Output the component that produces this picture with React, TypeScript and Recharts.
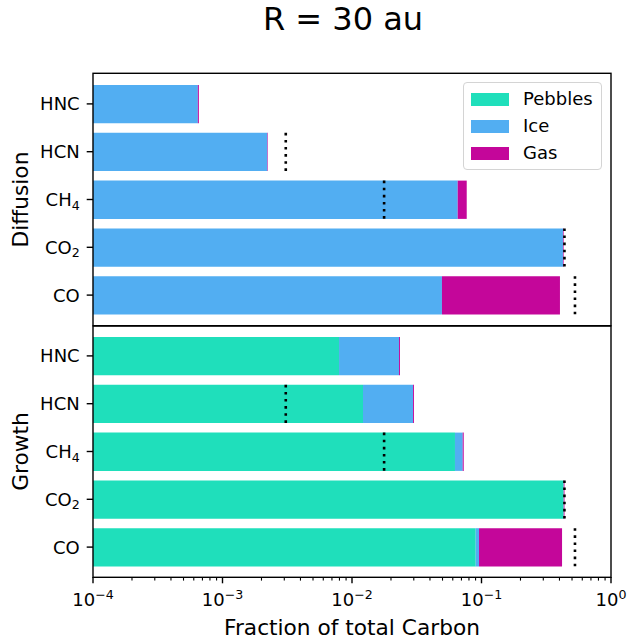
import React from 'react';
import { BarChart, Bar, XAxis, YAxis, Legend } from 'recharts';

// ---------- data ----------
const molecules = ['HNC', 'HCN', 'CH4', 'CO2', 'CO'];
const moleculeLabels: Record<string, [string, string]> = {
  HNC: ['HNC', ''],
  HCN: ['HCN', ''],
  CH4: ['CH', '4'],
  CO2: ['CO', '2'],
  CO: ['CO', ''],
};

const diffusionPebbles = [0, 0, 0, 0, 0];
const diffusionIce = [6.45e-4, 2.22e-3, 0.0655, 0.4256, 0.0495];
const diffusionGas = [1.2e-5, 2e-5, 0.0114, 0.005, 0.354];

const growthPebbles = [0.00794, 0.01216, 0.0624, 0.4305, 0.0902];
const growthIce = [0.01512, 0.01742, 0.0092, 0.001, 0.0055];
const growthGas = [0.0004, 0.0005, 0.0013, 0.006, 0.3231];

const referenceFraction: (number | null)[] = [null, 3.08e-3, 0.0177, 0.437, 0.527];

const majorTicks = [1e-4, 1e-3, 1e-2, 1e-1, 1];
const minorTicks = [
  2e-4, 3e-4, 4e-4, 5e-4, 6e-4, 7e-4, 8e-4, 9e-4,
  2e-3, 3e-3, 4e-3, 5e-3, 6e-3, 7e-3, 8e-3, 9e-3,
  2e-2, 3e-2, 4e-2, 5e-2, 6e-2, 7e-2, 8e-2, 9e-2,
  2e-1, 3e-1, 4e-1, 5e-1, 6e-1, 7e-1, 8e-1, 9e-1,
];
const X_MIN = 1e-4;
const X_MAX = 1;

const legendOrder = ['Pebbles', 'Ice', 'Gas'];
const seriesNames = { pebbles: 'Pebbles', ice: 'Ice', gas: 'Gas' };
const colors = { pebbles: '#1fdfbb', ice: '#52aef2', gas: '#c4069a' };

const FONT = 'DejaVu Sans, sans-serif';

function buildRows(peb: number[], ice: number[], gas: number[]) {
  return molecules.map((m, i) => {
    const p = peb[i];
    const c = ice[i];
    const g = gas[i];
    const r = referenceFraction[i];
    return {
      name: m,
      pebbles: p > 0 ? [X_MIN, p] : null,
      ice: c > 0 ? [Math.max(p, X_MIN), p + c] : null,
      gas: g > 0 ? [Math.max(p + c, X_MIN), p + c + g] : null,
      reference: r != null ? [X_MIN, r] : null,
    };
  });
}

const diffusionRows = buildRows(diffusionPebbles, diffusionIce, diffusionGas);
const growthRows = buildRows(growthPebbles, growthIce, growthGas);

// ---------- custom renderers ----------
const MoleculeTick = (props: any) => {
  const { x, y, payload } = props;
  const [base, sub] = moleculeLabels[payload.value] || [payload.value, ''];
  return (
    <text x={x} y={y} dy={6.5} textAnchor="end" fontSize={18} fill="#000" fontFamily={FONT}>
      {base}
      {sub ? (
        <tspan dy={3.5} fontSize={12.6}>
          {sub}
        </tspan>
      ) : null}
    </text>
  );
};

const LogTick = (props: any) => {
  const { x, y, payload } = props;
  const v = payload.value as number;
  const lg = Math.log10(v);
  const exp = Math.round(lg);
  const isMajor = Math.abs(lg - exp) < 1e-6;
  return (
    <g>
      <line
        x1={x}
        x2={x}
        y1={y}
        y2={y + (isMajor ? 6.3 : 3.6)}
        stroke="#000"
        strokeWidth={isMajor ? 1.4 : 1.1}
      />
      {isMajor ? (
        <text x={x} y={y + 28.7} textAnchor="middle" fontSize={18} fill="#000" fontFamily={FONT}>
          10
          <tspan dy={-7} fontSize={12.6}>
            {exp < 0 ? '\u2212' + String(-exp) : String(exp)}
          </tspan>
        </text>
      ) : null}
    </g>
  );
};

const ReferenceMarker = (props: any) => {
  const { x, y, width, height } = props;
  if (x == null || width == null || !isFinite(x) || !isFinite(width)) return null;
  const xe = x + width;
  return (
    <line
      x1={xe}
      x2={xe}
      y1={y}
      y2={y + height}
      stroke="#000"
      strokeWidth={2.6}
      strokeDasharray="2.6 4.5"
    />
  );
};

const LegendBox = (props: any) => {
  const payload = (props.payload || [])
    .filter((p: any) => p.type !== 'none' && legendOrder.indexOf(p.value) >= 0)
    .slice()
    .sort((a: any, b: any) => legendOrder.indexOf(a.value) - legendOrder.indexOf(b.value));
  return (
    <div
      style={{
        position: 'relative',
        width: 137,
        height: 86,
        border: '1px solid #d4d4d4',
        borderRadius: 4,
        background: 'rgba(255,255,255,0.8)',
        fontFamily: FONT,
        fontSize: 18,
        color: '#000',
      }}
    >
      {payload.map((p: any, i: number) => (
        <div key={p.value} style={{ position: 'absolute', left: 0, top: 16 + i * 27 - 13, height: 26, width: 137 }}>
          <div
            style={{
              position: 'absolute',
              left: 7,
              top: 6.5,
              width: 38,
              height: 13,
              background: p.color,
            }}
          />
          <div style={{ position: 'absolute', left: 59, top: 1, lineHeight: '24px', whiteSpace: 'nowrap' }}>
            {p.value}
          </div>
        </div>
      ))}
    </div>
  );
};

// ---------- panel ----------
const CHART_W = 627;
const PLOT_LEFT = 93;
const PLOT_RIGHT = 611;

function Panel(props: { rows: any[]; height: number; showX: boolean; showLegend: boolean; pad: number }) {
  const { rows, height, showX, showLegend, pad } = props;
  const yPad = { top: pad, bottom: pad };
  return (
    <BarChart
      layout="vertical"
      width={CHART_W}
      height={height}
      data={rows}
      margin={{ top: 0, right: CHART_W - PLOT_RIGHT, bottom: 0, left: 0 }}
    >
      <XAxis
        type="number"
        scale="log"
        domain={[X_MIN, X_MAX]}
        allowDataOverflow
        ticks={[...majorTicks, ...minorTicks]}
        interval={0}
        hide={!showX}
        height={showX ? 62 : 0}
        axisLine={false}
        tickLine={false}
        tickSize={0}
        tickMargin={0}
        tick={<LogTick />}
        label={
          showX
            ? {
                value: 'Fraction of total Carbon',
                position: 'insideBottom',
                offset: 4,
                fontSize: 21.7,
                fill: '#000',
                fontFamily: FONT,
              }
            : undefined
        }
      />
      <YAxis
        yAxisId="pebbles"
        type="category"
        dataKey="name"
        width={PLOT_LEFT}
        padding={yPad}
        axisLine={false}
        tickLine={{ stroke: '#000', strokeWidth: 1.4 }}
        tickSize={6.3}
        tickMargin={7}
        tick={<MoleculeTick />}
        interval={0}
      />
      <YAxis yAxisId="ice" type="category" dataKey="name" hide width={0} padding={yPad} />
      <YAxis yAxisId="gas" type="category" dataKey="name" hide width={0} padding={yPad} />
      <YAxis yAxisId="reference" type="category" dataKey="name" hide width={0} padding={yPad} />
      <Bar
        yAxisId="pebbles"
        dataKey="pebbles"
        name={seriesNames.pebbles}
        fill={colors.pebbles}
        barSize={38.3}
        isAnimationActive={false}
      />
      <Bar
        yAxisId="ice"
        dataKey="ice"
        name={seriesNames.ice}
        fill={colors.ice}
        barSize={38.3}
        isAnimationActive={false}
      />
      <Bar
        yAxisId="gas"
        dataKey="gas"
        name={seriesNames.gas}
        fill={colors.gas}
        barSize={38.3}
        isAnimationActive={false}
      />
      <Bar
        yAxisId="reference"
        dataKey="reference"
        legendType="none"
        fill="none"
        barSize={38.3}
        shape={<ReferenceMarker />}
        isAnimationActive={false}
      />
      {showLegend ? (
        <Legend
          layout="horizontal"
          verticalAlign="middle"
          align="center"
          content={<LegendBox />}
          wrapperStyle={{ position: 'absolute', left: 463, top: 9, width: 139, height: 88 }}
        />
      ) : null}
    </BarChart>
  );
}

export default function App() {
  return (
    <div
      style={{
        position: 'absolute',
        left: 0,
        top: 0,
        width: 627,
        height: 639,
        background: '#fff',
        fontFamily: FONT,
      }}
    >
      <div style={{ position: 'absolute', left: 0, top: 73 }}>
        <Panel rows={diffusionRows} height={253} showX={false} showLegend={true} pad={7} />
      </div>
      <div style={{ position: 'absolute', left: 0, top: 326 }}>
        <Panel rows={growthRows} height={313} showX={true} showLegend={false} pad={6} />
      </div>
      <svg
        width={627}
        height={639}
        style={{ position: 'absolute', left: 0, top: 0, pointerEvents: 'none' }}
      >
        <rect x={93} y={73.3} width={518} height={252.4} fill="none" stroke="#000" strokeWidth={1.4} />
        <rect x={93} y={326} width={518} height={251.3} fill="none" stroke="#000" strokeWidth={1.4} />
        <text x={343} y={30} textAnchor="middle" fontSize={32} fill="#000" fontFamily={FONT}>
          R = 30 au
        </text>
        <text
          x={28}
          y={199.5}
          textAnchor="middle"
          fontSize={21.7}
          fill="#000"
          fontFamily={FONT}
          transform="rotate(-90 28 199.5)"
        >
          Diffusion
        </text>
        <text
          x={28}
          y={451.5}
          textAnchor="middle"
          fontSize={21.7}
          fill="#000"
          fontFamily={FONT}
          transform="rotate(-90 28 451.5)"
        >
          Growth
        </text>
      </svg>
    </div>
  );
}
